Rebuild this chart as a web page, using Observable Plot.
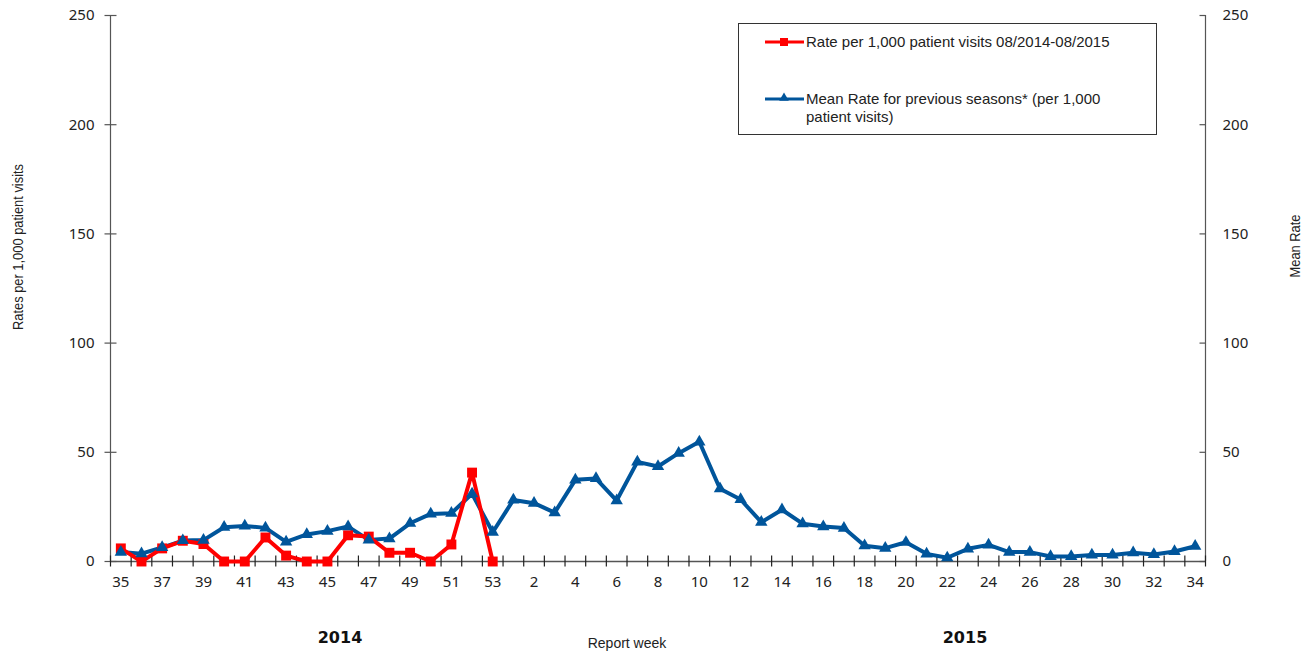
<!DOCTYPE html>
<html>
<head>
<meta charset="utf-8">
<script src="https://cdn.jsdelivr.net/npm/d3@7"></script>
<script src="https://cdn.jsdelivr.net/npm/@observablehq/plot@0.6"></script>
<style>
  html, body { margin: 0; padding: 0; background: #fff; }
  #chart { position: relative; width: 1310px; height: 652px; }
</style>
</head>
<body>
<div id="chart"></div>
<script>
// Report weeks (category order on the x axis)
const weeks = [35,36,37,38,39,40,41,42,43,44,45,46,47,48,49,50,51,52,53,
               1,2,3,4,5,6,7,8,9,10,11,12,13,14,15,16,17,18,19,20,21,22,23,24,25,26,27,28,29,30,31,32,33,34];
// Rate per 1,000 patient visits 08/2014-08/2015 (weeks 35..53)
const rate = [6,0,6,9.5,8,0,0,11,2.7,0,0,12,11.4,4,4,0,7.8,40.7,0];
// Mean Rate for previous seasons (all 53 weeks)
const meanRate = [4.3,3.6,6.4,9.6,9.8,15.7,16.3,15.4,9,12.4,13.9,16,9.9,10.5,17.5,21.8,22.1,31,13.4,
                  28.2,26.7,22.4,37.4,38,27.9,45.6,43.5,49.6,54.8,33.3,28.4,18,23.7,17.3,16,15.3,7.2,6.1,8.8,
                  3.5,1.7,5.8,7.6,4.3,4.3,2.3,2.3,3,3,4,3.2,4.6,7];
const yTicks = [0,50,100,150,200,250];
const seriesNames = ["Rate per 1,000 patient visits 08/2014-08/2015", "Mean Rate for previous seasons* (per 1,000", "patient visits)"];

const redData = rate.map((v, i) => ({i, v}));
const blueData = meanRate.map((v, i) => ({i, v}));
const labelIdx = weeks.map((w, i) => i).filter(i => i % 2 === 0);
const boundaries = d3.range(-0.5, weeks.length, 1);

const RED = "#ff0000", BLUE = "#00559b", AX = "#555";
const tickFont = "'Noto Sans', 'DejaVu Sans', sans-serif";

const hTickCross = {draw(ctx) { ctx.moveTo(-6, 0); ctx.lineTo(6, 0); }};
const hTickIn = {draw(ctx) { ctx.moveTo(-6, 0); ctx.lineTo(0, 0); }};
const vTick = {draw(ctx) { ctx.moveTo(0, -6); ctx.lineTo(0, 5); }};

const plot = Plot.plot({
  width: 1310,
  height: 652,
  marginLeft: 110,
  marginRight: 105,
  marginTop: 15,
  marginBottom: 91,
  style: {fontFamily: tickFont, background: "#fff"},
  x: {type: "linear", domain: [-0.5, weeks.length - 0.5], axis: null},
  y: {type: "linear", domain: [0, 250], axis: null},
  marks: [
    Plot.ruleX([-0.5, weeks.length - 0.5], {stroke: AX, strokeWidth: 1.2}),
    Plot.ruleY([0], {stroke: AX, strokeWidth: 1.5}),
    Plot.dot(yTicks, {x: () => -0.5, y: d => d, symbol: hTickCross, r: 5, fill: "none", stroke: AX, strokeWidth: 1.2}),
    Plot.dot(yTicks, {x: () => weeks.length - 0.5, y: d => d, symbol: hTickIn, r: 5, fill: "none", stroke: AX, strokeWidth: 1.2}),
    Plot.dot(boundaries, {x: d => d, y: () => 0, symbol: vTick, r: 5, fill: "none", stroke: "#222", strokeWidth: 1.2}),
    Plot.text(yTicks, {x: () => -0.5, y: d => d, text: d => String(d), dx: -16, textAnchor: "end", fontSize: 15, fill: "#222"}),
    Plot.text(yTicks, {x: () => weeks.length - 0.5, y: d => d, text: d => String(d), dx: 17, textAnchor: "start", fontSize: 15, fill: "#222"}),
    Plot.text(labelIdx, {x: d => d, y: () => 0, text: d => String(weeks[d]), dy: 21, fontSize: 15, fill: "#222"}),
    Plot.line(blueData, {x: "i", y: "v", stroke: BLUE, strokeWidth: 4}),
    Plot.line(redData, {x: "i", y: "v", stroke: RED, strokeWidth: 4}),
    Plot.dot(redData, {x: "i", y: "v", symbol: "square", r: 5.6, fill: RED, stroke: "none"}),
    Plot.dot(blueData, {x: "i", y: "v", symbol: "triangle", r: 4.6, fill: BLUE, stroke: "none"})
  ]
});

document.getElementById("chart").appendChild(plot);
const svg = d3.select(plot);

// Axis titles and year labels
svg.append("text")
  .attr("transform", "translate(23,247) rotate(-90) scale(0.86,1)")
  .attr("text-anchor", "middle")
  .style("font-family", "'Liberation Sans', Arial, sans-serif")
  .style("font-size", "15px").attr("fill", "#222")
  .text("Rates per 1,000 patient visits");
svg.append("text")
  .attr("transform", "translate(1300,246) rotate(-90) scale(0.86,1)")
  .attr("text-anchor", "middle")
  .style("font-family", "'Liberation Sans', Arial, sans-serif")
  .style("font-size", "15px").attr("fill", "#222")
  .text("Mean Rate");
svg.append("text")
  .attr("x", 627).attr("y", 648).attr("text-anchor", "middle")
  .style("font-family", "'Liberation Sans', Arial, sans-serif")
  .style("font-size", "14px").attr("fill", "#222")
  .text("Report week");
[["2014", 340], ["2015", 965]].forEach(([t, x]) => {
  svg.append("text")
    .attr("x", x).attr("y", 643).attr("text-anchor", "middle")
    .style("font-family", "'DejaVu Sans', 'Liberation Sans', Arial, sans-serif")
    .style("font-size", "16px").style("font-weight", "bold").attr("fill", "#111")
    .text(t);
});

// Legend
const lg = svg.append("g").style("font-family", "'Liberation Sans', Arial, sans-serif").style("font-size", "15px")
  .attr("text-anchor", "start");
lg.append("rect").attr("x", 738.5).attr("y", 23.5).attr("width", 418).attr("height", 111)
  .attr("fill", "#fff").attr("stroke", "#333").attr("stroke-width", 1);
lg.append("line").attr("x1", 765).attr("x2", 804).attr("y1", 42).attr("y2", 42).attr("stroke", RED).attr("stroke-width", 3);
lg.append("rect").attr("x", 780).attr("y", 38).attr("width", 8).attr("height", 8).attr("fill", RED);
lg.append("text").attr("x", 806).attr("y", 47).attr("text-anchor", "start").attr("fill", "#222").text(seriesNames[0]);
lg.append("line").attr("x1", 765).attr("x2", 804).attr("y1", 99).attr("y2", 99).attr("stroke", BLUE).attr("stroke-width", 3);
lg.append("path").attr("d", d3.symbol(d3.symbolTriangle, 40)()).attr("transform", "translate(784,98)").attr("fill", BLUE);
lg.append("text").attr("x", 806).attr("y", 104).attr("text-anchor", "start").attr("fill", "#222").text(seriesNames[1]);
lg.append("text").attr("x", 806).attr("y", 122).attr("text-anchor", "start").attr("fill", "#222").text(seriesNames[2]);
</script>
</body>
</html>
